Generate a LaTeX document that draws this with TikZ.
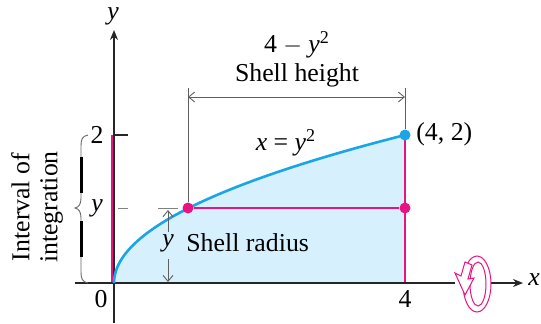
\documentclass[tikz,border=0pt]{standalone}
\usepackage{fontspec}
\setmainfont{Liberation Serif}
\usetikzlibrary{arrows.meta}
\definecolor{curveblue}{RGB}{25,165,230}
\definecolor{fillblue}{RGB}{214,240,253}
\definecolor{mag}{RGB}{232,20,130}
\definecolor{dimgrey}{RGB}{95,95,95}
\begin{document}
\begin{tikzpicture}[x=0.5pt,y=-0.5pt,
  font=\fontsize{12.9}{14}\selectfont,
  axis/.style={line width=0.6pt,black!85},
  dimline/.style={line width=0.45pt,dimgrey},
  dimarrow/.style={dimline,{Straight Barb[length=3pt,width=5pt]}-{Straight Barb[length=3pt,width=5pt]}},
  onearrow/.style={dimline,-{Straight Barb[length=3pt,width=5pt]}},
  dot/.style={circle,inner sep=0pt,minimum size=5.5pt},
  lbl/.style={inner sep=1pt}]
\useasboundingbox (0,0) rectangle (541,323);
% named points
\coordinate (O) at (114,283);
\coordinate (Q) at (405,283);
\coordinate (Ytop) at (114,30);
\coordinate (Ybot) at (114,323);
\coordinate (Xl) at (75,283);
\coordinate (Xg1) at (455,283);
\coordinate (Xg2) at (478,283);
\coordinate (Xr) at (523,283);
% region
\fill[fillblue] plot[domain=0:2,samples=60,variable=\t] ({114+72.75*\t*\t},{283-74*\t}) -- (Q) -- cycle;
% magenta lines
\draw[mag,line width=2pt] (112.5,135) -- (112.5,283);
\draw[mag,line width=0.9pt] (405,135) -- (Q);
% axes
\draw[axis,-{Stealth[length=5pt,width=4pt]}] (Ybot) -- (Ytop);
\draw[axis] (Xl) -- (Xg1);
\draw[axis,-{Stealth[length=5pt,width=4pt]}] (Xg2) -- (Xr);
\node[lbl,font=\fontsize{12.9}{14}\itshape] (ylab) at (113,16) {y};
\node[lbl,font=\fontsize{12.9}{14}\itshape] (xlab) at (534,280) {x};
% curve
\draw[curveblue,line width=1.3pt] plot[domain=0:2,samples=60,variable=\t] ({114+72.75*\t*\t},{283-74*\t});
% ticks
\draw[axis] (114,135) -- (128,135);
\draw[dimline,black!50] (118,208) -- (128,208);
% points
\node[dot,fill=mag] (A) at (188,208) {};
\node[dot,fill=mag] (B) at (405,208) {};
\node[dot,fill=curveblue] (P) at (405,135) {};
\draw[mag,line width=1.3pt] (A) -- (B);
% shell height dimension
\coordinate (H1) at (188,88);
\coordinate (H2) at (405,88);
\coordinate (HA) at (188,97);
\coordinate (HB) at (405,97);
\draw[dimline] (A) -- (H1);
\draw[dimline] (P) -- (H2);
\draw[dimarrow] (HA) -- (HB);
\node[lbl] (hexpr) at (297,45) {4 $-$ \textit{y}\textsuperscript{2}};
\node[lbl] (htext) at (297,75) {Shell height};
% curve label
\node[lbl] (clabel) at (286,143) {\textit{x} = \textit{y}\textsuperscript{2}};
\node[lbl,anchor=west] (plabel) at (414,134) {(4, 2)};
% shell radius
\draw[dimline,black!50] (158,208) -- (178,208);
\coordinate (R1) at (168,232);
\coordinate (R1t) at (168,210);
\coordinate (R2) at (168,259);
\coordinate (R2t) at (168,282);
\draw[onearrow] (R1) -- (R1t);
\draw[onearrow] (R2) -- (R2t);
\node[lbl,font=\fontsize{12.9}{14}\itshape] (rlab) at (168,243) {y};
\node[lbl,anchor=west] (rtext) at (184,243) {Shell radius};
% axis labels
\node[lbl] (l2) at (97,135) {2};
\node[lbl,font=\fontsize{12.9}{14}\itshape] (ly) at (97,208) {y};
\node[lbl] (l0) at (101,299) {0};
\node[lbl] (l4) at (405,299) {4};
% brace
\draw[dimline,black!60] (88,135) .. controls (82,136) and (81,140) .. (81,146) -- (81,198) .. controls (81,204) and (79,207) .. (75,208) .. controls (79,209) and (81,212) .. (81,218) -- (81,272) .. controls (81,278) and (82,282) .. (88,283);
\draw[black,line width=1.5pt] (81,157) -- (81,193);
\draw[black,line width=1.5pt] (81,221) -- (81,257);
\node[rotate=90,align=center,inner sep=0pt] (intlab) at (37,207) {Interval of\\integration};
% rotation symbol
\draw[mag,line width=0.5pt,fill=white] (477,284) ellipse [x radius=14, y radius=28];
\draw[mag,line width=0.5pt] (478,284) ellipse [x radius=8, y radius=22];
\draw[mag,line width=0.5pt,fill=white] (455,273) -- (461,276) -- (465,262) -- (472,265) -- (468,279) -- (474,278) -- (465,295) -- cycle;
\end{tikzpicture}
\end{document}
